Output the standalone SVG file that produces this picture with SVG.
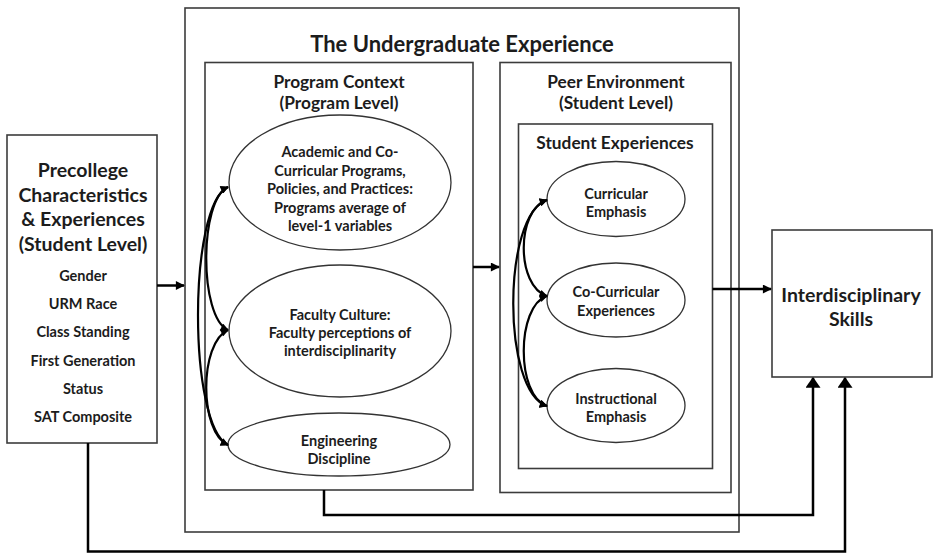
<svg xmlns="http://www.w3.org/2000/svg" width="933" height="554" viewBox="0 0 933 554">
<style>
.box{fill:none;stroke:#3c3c3c;stroke-width:1.6}
.ell{fill:#fff;stroke:#333;stroke-width:1.3}
text{font-family:Lato,"Open Sans","Liberation Sans",sans-serif;font-weight:bold;fill:#1c1c1c;text-anchor:middle}
.t1{font-size:22px}
.hd{font-size:17.3px}
.pc{font-size:19.5px}
.it{font-size:14.5px}
.el{font-size:14.5px}
.con{fill:none;stroke:#000;stroke-width:2.5}
.cur{fill:none;stroke:#000;stroke-width:2.2}
</style>
<defs>
<marker id="ah" viewBox="0 0 10 10" refX="9" refY="5" markerWidth="10" markerHeight="9" markerUnits="userSpaceOnUse" orient="auto-start-reverse"><path d="M0,0 L10,5 L0,10 z" fill="#000"/></marker>
<marker id="ahb" viewBox="0 0 10 14" refX="9" refY="7" markerWidth="11" markerHeight="15" markerUnits="userSpaceOnUse" orient="auto-start-reverse"><path d="M0,0 L10,7 L0,14 z" fill="#000"/></marker>
<marker id="ahc" viewBox="0 0 10 10" refX="9" refY="5" markerWidth="9" markerHeight="8" markerUnits="userSpaceOnUse" orient="auto-start-reverse"><path d="M0,0 L10,5 L0,10 z" fill="#000"/></marker>
</defs>
<rect width="933" height="554" fill="#fff"/>

<g id="undergraduate-experience">
<rect class="box" x="185" y="8" width="554" height="524"/>
<text class="t1" x="462" y="52">The Undergraduate Experience</text>
</g>

<g id="program-context">
<rect class="box" x="205" y="62.5" width="268" height="427.5"/>
<text class="hd" x="339" y="88">Program Context</text>
<text class="hd" x="339" y="109">(Program Level)</text>
</g>

<g id="peer-environment">
<rect class="box" x="500" y="62.5" width="231" height="430"/>
<text class="hd" x="616" y="88">Peer Environment</text>
<text class="hd" x="616" y="109">(Student Level)</text>
</g>

<g id="student-experiences">
<rect class="box" x="518.5" y="124" width="194" height="344.5"/>
<text class="hd" x="615" y="149">Student Experiences</text>
</g>

<g id="precollege">
<rect class="box" x="7" y="135" width="150" height="308"/>
<text class="pc" x="83" y="177">Precollege</text>
<text class="pc" x="83" y="201.5">Characteristics</text>
<text class="pc" x="83" y="226">&amp; Experiences</text>
<text class="pc" x="83" y="251">(Student Level)</text>
<text class="it" x="83" y="281">Gender</text>
<text class="it" x="83" y="309">URM Race</text>
<text class="it" x="83" y="337">Class Standing</text>
<text class="it" x="83" y="366">First Generation</text>
<text class="it" x="83" y="394">Status</text>
<text class="it" x="83" y="422">SAT Composite</text>
</g>

<g id="interdisciplinary-skills">
<rect class="box" x="772" y="230" width="160" height="147"/>
<text class="pc" x="851" y="302">Interdisciplinary</text>
<text class="pc" x="851" y="326">Skills</text>
</g>

<g id="academic-programs">
<ellipse class="ell" cx="340" cy="182.5" rx="111" ry="67.5"/>
<text class="el" x="340" y="157">Academic and Co-</text>
<text class="el" x="340" y="175.5">Curricular Programs,</text>
<text class="el" x="340" y="194">Policies, and Practices:</text>
<text class="el" x="340" y="212.5">Programs average of</text>
<text class="el" x="340" y="231">level-1 variables</text>
</g>

<g id="faculty-culture">
<ellipse class="ell" cx="340" cy="331" rx="111" ry="66"/>
<text class="el" x="340" y="319.5">Faculty Culture:</text>
<text class="el" x="340" y="337.5">Faculty perceptions of</text>
<text class="el" x="340" y="356">interdisciplinarity</text>
</g>

<g id="engineering-discipline">
<ellipse class="ell" cx="339" cy="444.5" rx="111" ry="31.5"/>
<text class="el" x="339" y="445.5">Engineering</text>
<text class="el" x="339" y="464">Discipline</text>
</g>

<g id="curricular-emphasis">
<ellipse class="ell" cx="616" cy="199" rx="69" ry="37.5"/>
<text class="el" x="616" y="198.5">Curricular</text>
<text class="el" x="616" y="217">Emphasis</text>
</g>

<g id="co-curricular-experiences">
<ellipse class="ell" cx="616" cy="300" rx="69" ry="37"/>
<text class="el" x="616" y="297">Co-Curricular</text>
<text class="el" x="616" y="315.5">Experiences</text>
</g>

<g id="instructional-emphasis">
<ellipse class="ell" cx="616" cy="405.5" rx="69" ry="37"/>
<text class="el" x="616" y="403.5">Instructional</text>
<text class="el" x="616" y="422">Emphasis</text>
</g>

<g id="connectors">
<path class="con" d="M157,285.5 H184" marker-end="url(#ah)"/>
<path class="con" d="M473,267 H499" marker-end="url(#ah)"/>
<path class="con" d="M712.5,289 H771" marker-end="url(#ah)"/>
<path class="con" d="M324,490 V515 H813 V378" marker-end="url(#ahb)"/>
<path class="con" d="M88,443 V551.5 H845 V378" marker-end="url(#ahb)"/>
<path class="cur" d="M228,187 C188,205 188,425 228,445" marker-start="url(#ahc)" marker-end="url(#ahc)"/>
<path class="cur" d="M228,187 C199,200 199,317 228,330" marker-start="url(#ahc)" marker-end="url(#ahc)"/>
<path class="cur" d="M228,330 C199,343 199,432 228,445" marker-start="url(#ahc)" marker-end="url(#ahc)"/>
<path class="cur" d="M547,200 C502,215 502,392 547,406" marker-start="url(#ahc)" marker-end="url(#ahc)"/>
<path class="cur" d="M547,200 C516,210 516,286 547,296" marker-start="url(#ahc)" marker-end="url(#ahc)"/>
<path class="cur" d="M547,296 C516,306 516,396 547,406" marker-start="url(#ahc)" marker-end="url(#ahc)"/>
</g>
</svg>
